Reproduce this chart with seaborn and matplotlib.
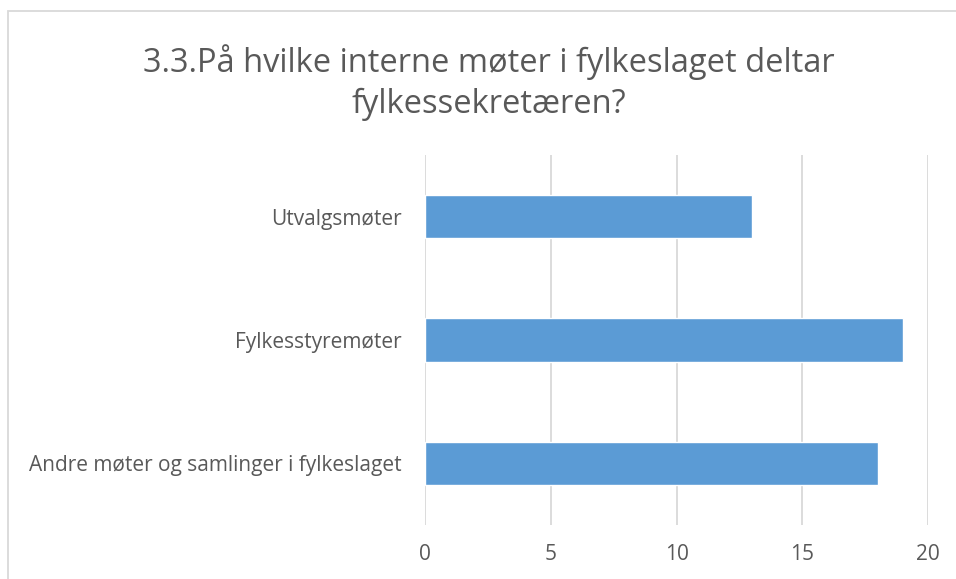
"""Horisontalt søylediagram — møter fylkessekretæren deltar på."""

import matplotlib.pyplot as plt
import matplotlib.patches as mpatches
import pandas as pd
import seaborn as sns

CATEGORIES = [
    "Utvalgsmøter",
    "Fylkesstyremøter",
    "Andre møter og samlinger i fylkeslaget",
]
COUNTS = [13, 19, 18]
X_TICKS = [0, 5, 10, 15, 20]
TITLE = "3.3.På hvilke interne møter i fylkeslaget deltar\nfylkessekretæren?"

BAR_COLOR = "#5b9bd5"
TEXT_COLOR = "#595959"
GRID_COLOR = "#d9d9d9"

sns.set_theme(style="white")
plt.rcParams["font.family"] = ["Open Sans", "DejaVu Sans"]

df = pd.DataFrame({"kategori": CATEGORIES, "antall": COUNTS})

fig = plt.figure(figsize=(9.56, 5.79), dpi=100)
ax = fig.add_axes([0.4446, 0.0933, 0.5261, 0.639])

sns.barplot(
    data=df,
    y="kategori",
    x="antall",
    color=BAR_COLOR,
    width=0.35,
    saturation=1,
    ax=ax,
)

ax.set_xlim(0, 20)
ax.set_ylim(2.5, -0.5)
ax.set_xticks(X_TICKS)
ax.set_xlabel("")
ax.set_ylabel("")
ax.xaxis.grid(True, color=GRID_COLOR, linewidth=1.3)
ax.set_axisbelow(True)
for spine in ax.spines.values():
    spine.set_visible(False)
ax.tick_params(axis="both", length=0, colors=TEXT_COLOR, labelsize=15)
ax.tick_params(axis="y", pad=17)
ax.tick_params(axis="x", pad=14)

fig.text(
    0.511, 0.857, TITLE,
    ha="center", va="center", color=TEXT_COLOR, fontsize=23.5,
    linespacing=1.31,
)

# ramme rundt diagramområdet (beskåret til høyre og nederst)
fig.patches.append(
    mpatches.Rectangle(
        (8 / 956, -0.1), 1.2, 1 - 11 / 579 + 0.1,
        transform=fig.transFigure, fill=False,
        edgecolor=GRID_COLOR, linewidth=1.3,
    )
)

fig.savefig("out.png", dpi=100)
